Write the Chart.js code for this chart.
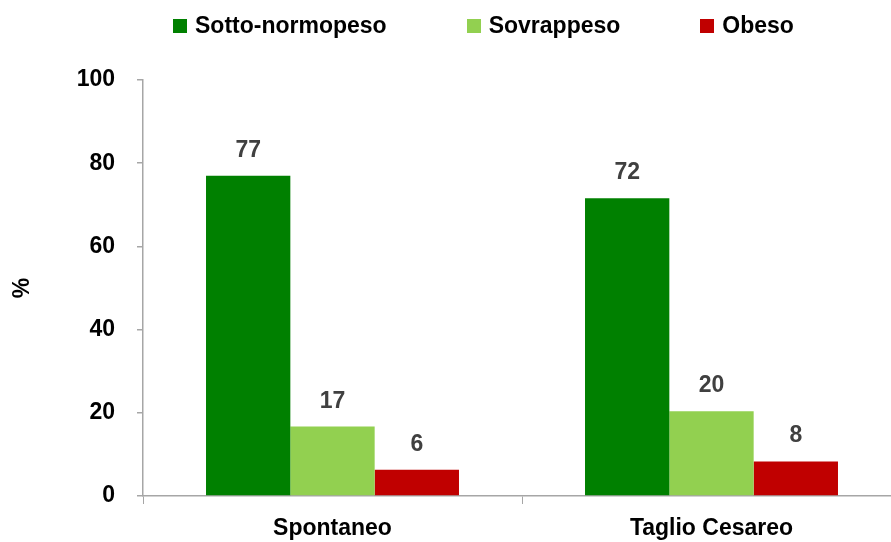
<!DOCTYPE html>
<html>
<head>
<meta charset="utf-8">
<script src="https://cdn.jsdelivr.net/npm/chart.js@4"></script>
<style>
  html, body { margin: 0; padding: 0; background: #fff; overflow: hidden; }
  #wrap { position: relative; width: 901px; height: 542px; }
  #legend { position: absolute; top: 12px; left: 173px; display: flex; gap: 80px;
    font-family: "Liberation Sans", sans-serif; font-weight: bold; font-size: 23px; color: #000; }
  #legend .item { display: flex; align-items: center; }
  #legend .box { width: 14px; height: 14px; margin-right: 8px; }
</style>
</head>
<body>
<div id="wrap">
  <canvas id="c" width="901" height="542"></canvas>
  <div id="legend"></div>
</div>
<script>
// dati
var categories = ['Spontaneo', 'Taglio Cesareo'];
var seriesNames = ['Sotto-normopeso', 'Sovrappeso', 'Obeso'];
var seriesColors = ['#008000', '#92D050', '#C00000'];
var sottoNormopeso = [77.0, 71.6];
var sovrappeso = [16.7, 20.4];
var obeso = [6.3, 8.3];
var yTicks = [0, 20, 40, 60, 80, 100];

var FONT = '"Liberation Sans", sans-serif';
var FONT_SIZE = 23;
var AXIS_COLOR = '#a6a6a6';

var legendEl = document.getElementById('legend');
seriesNames.forEach(function (name, i) {
  var item = document.createElement('div');
  item.className = 'item';
  item.innerHTML = '<span class="box" style="background:' + seriesColors[i] + '"></span><span>' + name + '</span>';
  legendEl.appendChild(item);
});

// etichette dei valori sopra le barre
var valueLabels = {
  id: 'valueLabels',
  afterDatasetsDraw: function (chart) {
    var ctx = chart.ctx;
    ctx.save();
    ctx.font = 'bold ' + FONT_SIZE + 'px ' + FONT;
    ctx.fillStyle = '#404040';
    ctx.textAlign = 'center';
    ctx.textBaseline = 'alphabetic';
    chart.data.datasets.forEach(function (ds, di) {
      chart.getDatasetMeta(di).data.forEach(function (el, i) {
        ctx.fillText(String(Math.round(ds.data[i])), el.x, el.y - 19);
      });
    });
    ctx.restore();
  }
};

var seriesData = [sottoNormopeso, sovrappeso, obeso];

new Chart(document.getElementById('c'), {
  type: 'bar',
  data: {
    labels: categories,
    datasets: seriesNames.map(function (name, i) {
      return {
        label: name,
        data: seriesData[i],
        backgroundColor: seriesColors[i],
        borderWidth: 0,
        categoryPercentage: 0.6675,
        barPercentage: 1.0
      };
    })
  },
  options: {
    responsive: false,
    animation: false,
    layout: { padding: { top: 80, right: 0, bottom: 0, left: 0 } },
    plugins: {
      legend: { display: false },
      tooltip: { enabled: false }
    },
    scales: {
      x: {
        grid: {
          offset: true,
          drawOnChartArea: false,
          drawTicks: true,
          tickLength: 8,
          color: AXIS_COLOR,
          lineWidth: 1
        },
        border: { color: AXIS_COLOR, width: 1.5 },
        ticks: {
          color: '#000',
          padding: 11,
          font: { family: FONT, size: FONT_SIZE, weight: 'bold' }
        },
        afterFit: function (scale) { scale.height = 46; }
      },
      y: {
        min: 0,
        max: 100,
        afterBuildTicks: function (scale) {
          scale.ticks = yTicks.map(function (v) { return { value: v }; });
        },
        grid: {
          drawOnChartArea: false,
          drawTicks: true,
          tickLength: 6,
          color: AXIS_COLOR,
          lineWidth: 1.5
        },
        border: { color: AXIS_COLOR, width: 1.5 },
        ticks: {
          color: '#000',
          padding: 22,
          font: { family: FONT, size: FONT_SIZE, weight: 'bold' }
        },
        title: {
          display: true,
          text: '%',
          color: '#000',
          font: { family: FONT, size: FONT_SIZE, weight: 'bold' },
          padding: { top: 9, bottom: 4 }
        },
        afterFit: function (scale) { scale.width = 143; }
      }
    }
  },
  plugins: [valueLabels]
});
</script>
</body>
</html>
